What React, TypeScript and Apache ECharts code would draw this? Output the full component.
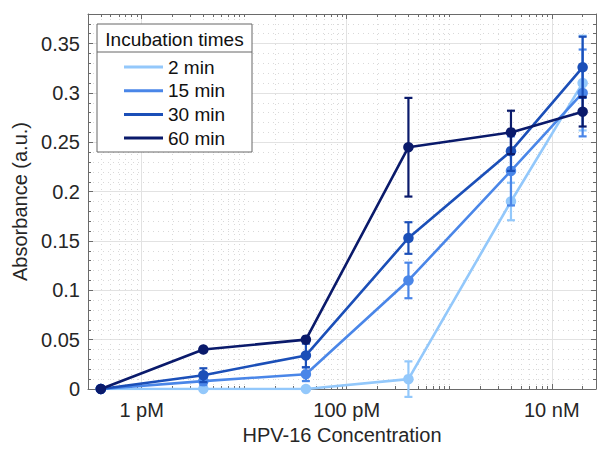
import React, { useEffect, useRef } from 'react';
import * as echarts from 'echarts';

// Concentrations in pM
const concentrationsPM = [0.4, 4, 40, 400, 4000, 20000];
const seriesNames = ['2 min', '15 min', '30 min', '60 min'];
const seriesColors = ['#93c8fb', '#4a86e8', '#1b4fb8', '#0a1a6b'];

const mean2 = [0, 0, 0, 0.010, 0.190, 0.310];
const err2 = [0, 0, 0, 0.018, 0.019, 0.048];
const mean15 = [0, 0.008, 0.015, 0.110, 0.221, 0.300];
const err15 = [0, 0.004, 0.007, 0.018, 0.035, 0.044];
const mean30 = [0, 0.014, 0.034, 0.153, 0.241, 0.326];
const err30 = [0, 0.007, 0.012, 0.016, 0.020, 0.031];
const mean60 = [0, 0.040, 0.050, 0.245, 0.260, 0.281];
const err60 = [0, 0, 0, 0.050, 0.022, 0.015];

const xTickValues = [1, 100, 10000];
const xTickLabels = ['1 pM', '100 pM', '10 nM'];
const xMin = 0.3;
const xMax = 27000;
const decades = [0.1, 1, 10, 100, 1000, 10000];
const minorMultipliers = [1, 2, 3, 4, 5, 6, 7, 8, 9];

const yMin = 0;
const yMax = 0.38;
const yInterval = 0.05;

const FONT = '"Liberation Sans", Arial, Helvetica, sans-serif';
const AXIS_COLOR = '#6a6a6a';
const TEXT_COLOR = '#262626';

export default function App() {
  const ref = useRef<HTMLDivElement>(null);
  useEffect(() => {
    document.body.style.margin = '0';
    if (!ref.current) return;
    const chart = echarts.init(ref.current, undefined, { renderer: 'svg' });

    const minorTicks: number[] = [];
    decades.forEach((d) => {
      minorMultipliers.forEach((m) => {
        const v = +(d * m).toPrecision(6);
        if (v >= xMin && v <= xMax && xTickValues.indexOf(v) < 0) minorTicks.push(v);
      });
    });

    const means = [mean2, mean15, mean30, mean60];
    const errs = [err2, err15, err30, err60];

    const lineSeries: any[] = [];
    means.forEach((m, i) => {
      lineSeries.push({
        name: seriesNames[i],
        type: 'line',
        xAxisIndex: 0,
        yAxisIndex: 0,
        data: concentrationsPM.map((x, j) => [x, m[j]]),
        symbol: 'circle',
        symbolSize: 10.5,
        lineStyle: { width: 2.6, color: seriesColors[i] },
        itemStyle: { color: seriesColors[i] },
        emphasis: { disabled: true },
        z: 2 + i * 0.1,
      });
      const errData = concentrationsPM
        .map((x, j) => [x, m[j], errs[i][j]])
        .filter((d) => d[2] > 0);
      const color = seriesColors[i];
      lineSeries.push({
        name: seriesNames[i] + ' error',
        type: 'custom',
        xAxisIndex: 0,
        yAxisIndex: 0,
        dimensions: ['x', 'y', 'e'],
        encode: { x: 0, y: 1 },
        data: errData,
        z: 2 + i * 0.1,
        renderItem: (params: any, api: any) => {
          const x = api.value(0);
          const y = api.value(1);
          const e = api.value(2);
          const top = api.coord([x, y + e]);
          const bot = api.coord([x, y - e]);
          const hw = 4;
          const style = { stroke: color, lineWidth: 2.2 };
          return {
            type: 'group',
            children: [
              { type: 'line', shape: { x1: top[0], y1: top[1], x2: bot[0], y2: bot[1] }, style },
              { type: 'line', shape: { x1: top[0] - hw, y1: top[1], x2: top[0] + hw, y2: top[1] }, style },
              { type: 'line', shape: { x1: bot[0] - hw, y1: bot[1], x2: bot[0] + hw, y2: bot[1] }, style },
            ],
          };
        },
      });
    });

    const labelFor = (v: number) => {
      for (let k = 0; k < xTickValues.length; k++) {
        if (Math.abs(Math.log10(v) - Math.log10(xTickValues[k])) < 0.01) return xTickLabels[k];
      }
      return '';
    };

    const baseLog = {
      type: 'log',
      logBase: 10,
      min: xMin,
      max: xMax,
      gridIndex: 0,
    };

    chart.setOption({
      animation: false,
      textStyle: { fontFamily: FONT },
      grid: { left: 88, top: 14, right: 1, bottom: 59, containLabel: false },
      xAxis: [
        {
          ...baseLog,
          position: 'bottom',
          name: 'HPV-16 Concentration',
          nameLocation: 'middle',
          nameGap: 36,
          nameTextStyle: { fontSize: 20, color: TEXT_COLOR, fontFamily: FONT },
          axisLine: { show: true, lineStyle: { color: AXIS_COLOR, width: 1 } },
          axisTick: { show: true, inside: true, length: 5, customValues: xTickValues, lineStyle: { color: AXIS_COLOR } },
          axisLabel: {
            show: true,
            customValues: xTickValues,
            formatter: (v: number) => labelFor(v),
            fontSize: 20,
            color: TEXT_COLOR,
            margin: 11,
            fontFamily: FONT,
          },
          splitLine: { show: true, lineStyle: { color: '#e2e2e2', width: 1, type: 'solid' } },
        },
        {
          ...baseLog,
          position: 'bottom',
          axisLine: { show: false },
          axisTick: { show: true, inside: true, length: 3, customValues: minorTicks, lineStyle: { color: AXIS_COLOR } },
          axisLabel: { show: false },
          splitLine: { show: true, lineStyle: { color: '#d9d9d9', width: 1, type: [1, 4] } },
        },
        {
          ...baseLog,
          position: 'top',
          axisLine: { show: true, lineStyle: { color: AXIS_COLOR, width: 1 } },
          axisTick: { show: true, inside: true, length: 5, customValues: xTickValues, lineStyle: { color: AXIS_COLOR } },
          axisLabel: { show: false },
          splitLine: { show: false },
        },
        {
          ...baseLog,
          position: 'top',
          axisLine: { show: false },
          axisTick: { show: true, inside: true, length: 3, customValues: minorTicks, lineStyle: { color: AXIS_COLOR } },
          axisLabel: { show: false },
          splitLine: { show: false },
        },
      ],
      yAxis: [
        {
          type: 'value',
          min: yMin,
          max: yMax,
          interval: yInterval,
          position: 'left',
          name: 'Absorbance (a.u.)',
          nameLocation: 'middle',
          nameGap: 56,
          nameTextStyle: { fontSize: 20, color: TEXT_COLOR, fontFamily: FONT },
          axisLine: { show: true, lineStyle: { color: AXIS_COLOR, width: 1 } },
          axisTick: { show: true, inside: true, length: 5, lineStyle: { color: AXIS_COLOR } },
          minorTick: { show: true, splitNumber: 5, length: 3, lineStyle: { color: AXIS_COLOR } },
          axisLabel: { fontSize: 20, color: TEXT_COLOR, margin: 8, showMaxLabel: false, fontFamily: FONT },
          splitLine: { show: true, lineStyle: { color: '#e2e2e2', width: 1 } },
          minorSplitLine: { show: true, lineStyle: { color: '#d9d9d9', width: 1, type: [1, 4] } },
        },
        {
          type: 'value',
          min: yMin,
          max: yMax,
          interval: yInterval,
          position: 'right',
          axisLine: { show: true, lineStyle: { color: AXIS_COLOR, width: 1 } },
          axisTick: { show: true, inside: true, length: 5, lineStyle: { color: AXIS_COLOR } },
          minorTick: { show: true, splitNumber: 5, length: 3, lineStyle: { color: AXIS_COLOR } },
          axisLabel: { show: false },
          splitLine: { show: false },
        },
      ],
      legend: {
        data: seriesNames,
        orient: 'vertical',
        left: 124,
        top: 57,
        padding: 0,
        icon: 'rect',
        itemWidth: 39,
        itemHeight: 3,
        itemGap: 3.7,
        selectedMode: false,
        textStyle: { fontSize: 19, color: '#111', lineHeight: 20, fontFamily: FONT },
        z: 5,
      },
      graphic: [
        {
          type: 'rect',
          z: 3,
          shape: { x: 97, y: 24, width: 155, height: 128 },
          style: { fill: '#fff', stroke: '#666', lineWidth: 1 },
        },
        {
          type: 'line',
          z: 3,
          shape: { x1: 97, y1: 52, x2: 252, y2: 52 },
          style: { stroke: '#666', lineWidth: 1 },
        },
        {
          type: 'text',
          z: 3,
          x: 174.5,
          y: 39,
          style: {
            text: 'Incubation times',
            fontSize: 19,
            fill: '#111',
            align: 'center',
            verticalAlign: 'middle',
            fontFamily: FONT,
          },
        },
      ],
      series: lineSeries,
    });
    return () => chart.dispose();
  }, []);
  return <div ref={ref} style={{ width: 597, height: 450 }} />;
}
